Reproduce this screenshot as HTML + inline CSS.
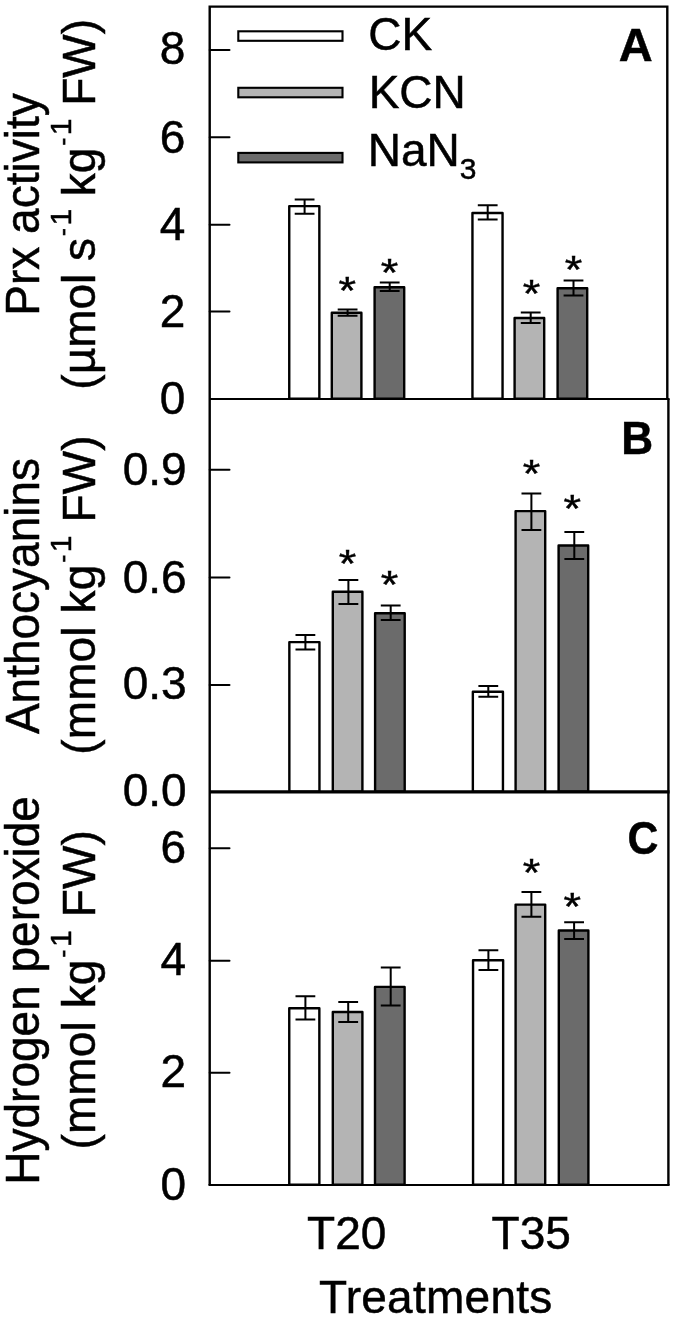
<!DOCTYPE html>
<html lang="en"><head><meta charset="utf-8"><title>Figure</title>
<style>html,body{margin:0;padding:0;background:#fff}svg{display:block}text{font-family:"Liberation Sans",sans-serif;fill:#000;stroke:#000;stroke-width:0.5px}</style>
</head><body>
<svg width="675" height="1319" viewBox="0 0 675 1319">
<rect x="0" y="0" width="675" height="1319" fill="#fff"/>
<g stroke="#000" stroke-linejoin="round">
<rect x="289.25" y="206.10" width="30.10" height="192.70" fill="#fff" stroke-width="2.4"/>
<path d="M294.70 199.60H314.50M294.70 213.80H314.50M304.60 199.60V213.80" fill="none" stroke-width="2.0"/>
<rect x="331.80" y="312.80" width="29.60" height="86.00" fill="#b4b4b4" stroke-width="2.4"/>
<path d="M337.70 309.40H357.50M337.70 315.80H357.50M347.60 309.40V315.80" fill="none" stroke-width="2.0"/>
<rect x="374.60" y="287.20" width="29.60" height="111.60" fill="#6b6b6b" stroke-width="2.4"/>
<path d="M379.80 282.60H399.60M379.80 291.00H399.60M389.70 282.60V291.00" fill="none" stroke-width="2.0"/>
<rect x="472.45" y="213.00" width="30.10" height="185.80" fill="#fff" stroke-width="2.4"/>
<path d="M477.80 205.20H497.60M477.80 219.60H497.60M487.70 205.20V219.60" fill="none" stroke-width="2.0"/>
<rect x="514.60" y="318.00" width="29.60" height="80.80" fill="#b4b4b4" stroke-width="2.4"/>
<path d="M520.80 312.50H540.60M520.80 323.00H540.60M530.70 312.50V323.00" fill="none" stroke-width="2.0"/>
<rect x="557.60" y="288.30" width="29.60" height="110.50" fill="#6b6b6b" stroke-width="2.4"/>
<path d="M563.60 280.60H583.40M563.60 295.40H583.40M573.50 280.60V295.40" fill="none" stroke-width="2.0"/>
<rect x="289.35" y="642.10" width="30.10" height="149.50" fill="#fff" stroke-width="2.4"/>
<path d="M295.50 635.00H315.30M295.50 649.40H315.30M305.40 635.00V649.40" fill="none" stroke-width="2.0"/>
<rect x="332.80" y="591.80" width="29.60" height="199.80" fill="#b4b4b4" stroke-width="2.4"/>
<path d="M338.50 580.10H358.30M338.50 604.10H358.30M348.40 580.10V604.10" fill="none" stroke-width="2.0"/>
<rect x="375.10" y="613.20" width="29.60" height="178.40" fill="#6b6b6b" stroke-width="2.4"/>
<path d="M380.80 605.60H400.60M380.80 620.00H400.60M390.70 605.60V620.00" fill="none" stroke-width="2.0"/>
<rect x="472.85" y="691.70" width="30.10" height="99.90" fill="#fff" stroke-width="2.4"/>
<path d="M478.40 686.00H498.20M478.40 696.70H498.20M488.30 686.00V696.70" fill="none" stroke-width="2.0"/>
<rect x="515.60" y="511.10" width="29.60" height="280.50" fill="#b4b4b4" stroke-width="2.4"/>
<path d="M521.50 493.50H541.30M521.50 530.00H541.30M531.40 493.50V530.00" fill="none" stroke-width="2.0"/>
<rect x="558.60" y="545.50" width="29.60" height="246.10" fill="#6b6b6b" stroke-width="2.4"/>
<path d="M564.40 532.10H584.20M564.40 559.00H584.20M574.30 532.10V559.00" fill="none" stroke-width="2.0"/>
<rect x="289.25" y="1008.20" width="30.10" height="176.50" fill="#fff" stroke-width="2.4"/>
<path d="M295.50 996.30H315.30M295.50 1019.60H315.30M305.40 996.30V1019.60" fill="none" stroke-width="2.0"/>
<rect x="332.80" y="1012.00" width="29.60" height="172.70" fill="#b4b4b4" stroke-width="2.4"/>
<path d="M338.30 1002.00H358.10M338.30 1021.90H358.10M348.20 1002.00V1021.90" fill="none" stroke-width="2.0"/>
<rect x="375.00" y="986.90" width="29.60" height="197.80" fill="#6b6b6b" stroke-width="2.4"/>
<path d="M380.80 967.60H400.60M380.80 1005.50H400.60M390.70 967.60V1005.50" fill="none" stroke-width="2.0"/>
<rect x="473.05" y="960.30" width="30.10" height="224.40" fill="#fff" stroke-width="2.4"/>
<path d="M478.50 950.20H498.30M478.50 970.10H498.30M488.40 950.20V970.10" fill="none" stroke-width="2.0"/>
<rect x="515.60" y="904.60" width="29.60" height="280.10" fill="#b4b4b4" stroke-width="2.4"/>
<path d="M521.50 892.10H541.30M521.50 916.70H541.30M531.40 892.10V916.70" fill="none" stroke-width="2.0"/>
<rect x="558.80" y="930.50" width="29.60" height="254.20" fill="#6b6b6b" stroke-width="2.4"/>
<path d="M564.20 922.30H584.00M564.20 938.90H584.00M574.10 922.30V938.90" fill="none" stroke-width="2.0"/>
</g>
<g stroke="#000" stroke-width="2.1">
<rect x="238.3" y="31.3" width="104.2" height="9.5" fill="#fff"/>
<rect x="238.3" y="87.8" width="104.2" height="9.5" fill="#b4b4b4"/>
<rect x="238.3" y="152.9" width="104.2" height="9.5" fill="#6b6b6b"/>
</g>
<g stroke="#000" fill="none" stroke-linecap="square">
<path d="M209.7 1184.95V6.65H667.3V399.05" stroke-width="2.4" stroke-linecap="butt"/>
<path d="M668.4 399.05V1184.95" stroke-width="2.4" stroke-linecap="butt"/>
<path d="M209.7 399.05H669.6" stroke-width="1.9" stroke-linecap="butt"/>
<path d="M209.7 791.85H669.6" stroke-width="3.4" stroke-linecap="butt"/>
<path d="M208.5 1184.95H669.6" stroke-width="2.0" stroke-linecap="butt"/>
</g>
<g stroke="#000" stroke-width="2.0" stroke-linecap="round">
<path d="M209.7 49.9H229.5"/>
<path d="M209.7 137.3H229.5"/>
<path d="M209.7 224.7H229.5"/>
<path d="M209.7 311.4H229.5"/>
<path d="M209.7 469.7H229.5"/>
<path d="M209.7 577.4H229.5"/>
<path d="M209.7 685.0H229.5"/>
<path d="M209.7 848.3H229.5"/>
<path d="M209.7 960.8H229.5"/>
<path d="M209.7 1072.7H229.5"/>
</g>
<g font-size="46" text-anchor="end">
<text x="185.4" y="64.4">8</text>
<text x="185.4" y="152.5">6</text>
<text x="185.4" y="240.2">4</text>
<text x="185.4" y="326.6">2</text>
<text x="185.4" y="414.3">0</text>
<text x="186.6" y="485.2">0.9</text>
<text x="186.6" y="592.5">0.6</text>
<text x="186.6" y="699.1">0.3</text>
<text x="186.6" y="806.2">0.0</text>
<text x="186.1" y="862.5">6</text>
<text x="186.1" y="974.5">4</text>
<text x="186.1" y="1086.8">2</text>
<text x="186.1" y="1200.0">0</text>
</g>
<g font-size="46">
<text x="368.2" y="50.4">CK</text>
<text x="368.7" y="107.5">KCN</text>
<text x="367.7" y="166">NaN<tspan font-size="30" dy="12.7">3</tspan></text>
</g>
<g font-size="47" font-weight="bold" text-anchor="end" style="stroke-width:0.2px">
<text x="652.6" y="60.5">A</text>
<text transform="translate(653.2 454.2) scale(0.95 1)" font-size="46.5">B</text>
<text transform="translate(658.4 854.0) scale(0.92 1)" font-size="46.5">C</text>
</g>
<g font-size="45" text-anchor="middle" style="stroke-width:0.9px">
<text transform="translate(347.3 276.50) scale(1 0.87)" x="0" y="31.6">*</text>
<text transform="translate(389.4 258.65) scale(1 0.87)" x="0" y="31.6">*</text>
<text transform="translate(531.4 279.80) scale(1 0.87)" x="0" y="31.6">*</text>
<text transform="translate(573.4 255.65) scale(1 0.87)" x="0" y="31.6">*</text>
<text transform="translate(347.4 549.40) scale(1 0.87)" x="0" y="31.6">*</text>
<text transform="translate(389.4 570.40) scale(1 0.87)" x="0" y="31.6">*</text>
<text transform="translate(531.4 459.50) scale(1 0.87)" x="0" y="31.6">*</text>
<text transform="translate(572.3 494.80) scale(1 0.87)" x="0" y="31.6">*</text>
<text transform="translate(531.4 858.40) scale(1 0.87)" x="0" y="31.6">*</text>
<text transform="translate(572.3 892.80) scale(1 0.87)" x="0" y="31.6">*</text>
</g>
<g font-size="46" text-anchor="middle">
<text x="346.7" y="1249.1">T20</text>
<text x="531.2" y="1249.1">T35</text>
<text x="552.6" y="1313.1" text-anchor="end" letter-spacing="0.27">Treatments</text>
</g>
<text transform="translate(38.9 204.5) rotate(-90) scale(1 1.03)" font-size="46" text-anchor="middle">Prx activity</text>
<text transform="translate(95.1 204.3) rotate(-90)" font-size="46" text-anchor="middle">(µmol s<tspan font-size="22" dy="-25.4" dx="2.3" style="stroke-width:0.8px">-</tspan><tspan font-size="30" dy="1.1" dx="2.7">1</tspan><tspan dy="24.3"> kg</tspan><tspan font-size="22" dy="-25.4" dx="2.3" style="stroke-width:0.8px">-</tspan><tspan font-size="30" dy="1.1" dx="2.7">1</tspan><tspan dy="24.3"> FW)</tspan></text>
<text transform="translate(38.9 596.0) rotate(-90) scale(1 1.03)" font-size="46" text-anchor="middle">Anthocyanins</text>
<text transform="translate(95.1 595.0) rotate(-90)" font-size="46" text-anchor="middle" letter-spacing="0.12">(mmol kg<tspan font-size="22" dy="-25.4" dx="2.3" style="stroke-width:0.8px">-</tspan><tspan font-size="30" dy="1.1" dx="2.7">1</tspan><tspan dy="24.3"> FW)</tspan></text>
<text transform="translate(38.9 990.4) rotate(-90) scale(1 1.03)" font-size="46" text-anchor="middle">Hydrogen peroxide</text>
<text transform="translate(95.1 989.8) rotate(-90)" font-size="46" text-anchor="middle" letter-spacing="0.12">(mmol kg<tspan font-size="22" dy="-25.4" dx="2.3" style="stroke-width:0.8px">-</tspan><tspan font-size="30" dy="1.1" dx="2.7">1</tspan><tspan dy="24.3"> FW)</tspan></text>
</svg>
</body></html>
